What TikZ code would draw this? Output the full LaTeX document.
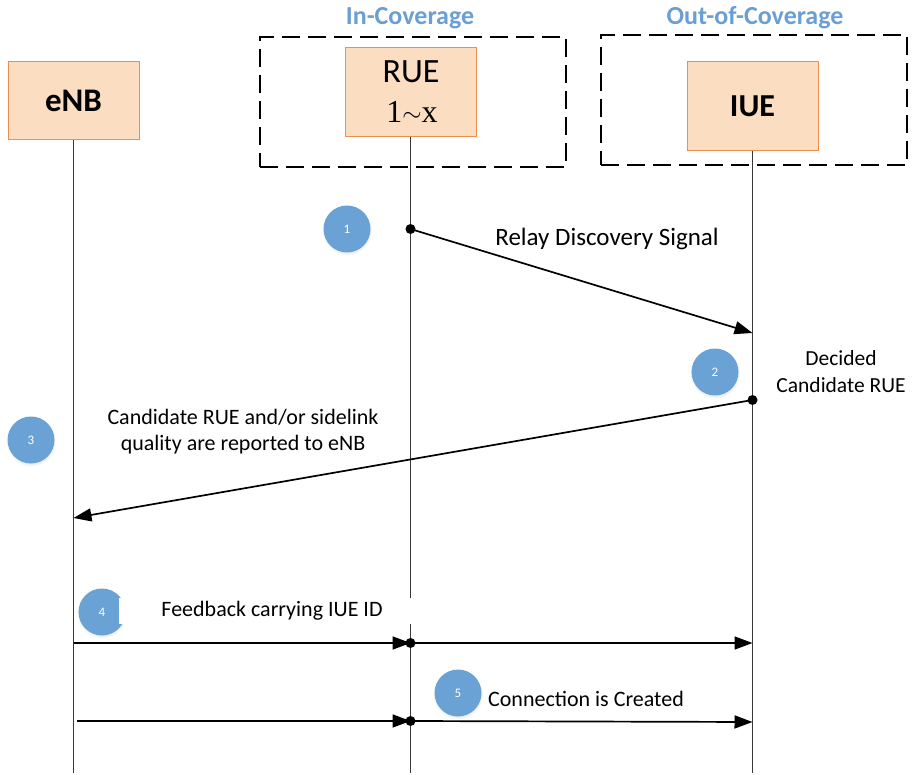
\documentclass[tikz,border=0pt]{standalone}
\usepackage{fontspec}
\setmainfont{Carlito}
\newfontfamily\serifdigits{Liberation Serif}
\usetikzlibrary{arrows.meta,shadows}

\definecolor{boxfill}{HTML}{FBDDC2}
\definecolor{boxline}{HTML}{EE8D4E}
\definecolor{stepblue}{HTML}{6BA2D5}
\definecolor{zoneblue}{HTML}{6A9FD5}
\definecolor{lifegray}{HTML}{383838}

\begin{document}
\begin{tikzpicture}[x=1pt,y=-1pt,
  actor/.style={draw=boxline, fill=boxfill, line width=1pt, inner sep=0pt,
                minimum width=131pt, align=center},
  zone/.style={draw=black, line width=2.7pt, dash pattern=on 18pt off 8pt,
               inner sep=0pt, minimum width=306pt, minimum height=130pt},
  zonelabel/.style={font=\fontsize{26}{30}\selectfont\bfseries, text=zoneblue,
                    anchor=base, inner sep=0pt},
  lifeline/.style={draw=lifegray, line width=1pt},
  msg/.style={draw=black, line width=1.7pt,
              -{Triangle[length=18pt,width=13pt]}},
  dot/.style={circle, fill=black, inner sep=0pt, minimum size=10pt},
  badge/.style={circle, fill=stepblue, inner sep=0pt, minimum size=47pt,
                text=white, font=\fontsize{13}{15}\selectfont,
                circular drop shadow={opacity=0.16, shadow xshift=0pt,
                  shadow yshift=-1.5pt, shadow scale=1.07}},
  msglabel/.style={font=\fontsize{22}{26}\selectfont, align=center},
  baselabel/.style={msglabel, anchor=base, inner sep=0pt}
]
\useasboundingbox (0,0) rectangle (915,775);

% coverage zones
\node[zone] (inzone)  at (413,102) {};
\node[zone] (outzone) at (754,100) {};
\node[zonelabel] (inlbl)  at (410,25) {In-Coverage};
\node[zonelabel] (outlbl) at (755,25) {Out-of-Coverage};

% participants
\node[actor, minimum height=78pt,
      font=\fontsize{33}{36}\selectfont\bfseries] (enb) at (73.5,101) {eNB};
\node[actor, minimum height=89pt] (rue) at (410.5,92.5) {};
\node[anchor=base, inner sep=0pt, font=\fontsize{34}{36}\selectfont]
  (ruename) at (411,83) {RUE};
\node[anchor=base, inner sep=0pt, font=\serifdigits\fontsize{32}{36}\selectfont]
  (ruerange) at (412,123) {1\raisebox{0.12ex}{$\sim$}x};
\node[actor, minimum height=89pt,
      font=\fontsize{32}{36}\selectfont\bfseries] (iue) at (752.5,106.5) {IUE};

% lifeline ends
\coordinate (enbend) at (73.5,773);
\coordinate (rueend) at (410.5,773);
\coordinate (iueend) at (752.5,773);

\draw[lifeline] (enb.south) -- (enbend);
\draw[lifeline] (rue.south) -- (rueend);
\draw[lifeline] (iue.south) -- (iueend);

% message anchor points on the lifelines
\coordinate (rueA) at (410.5,229);
\coordinate (iueA) at (752.5,333);
\coordinate (iueB) at (752.5,400);
\coordinate (enbB) at (73.5,518);
\coordinate (enbC) at (73.5,643);
\coordinate (rueC) at (410.5,643);
\coordinate (iueC) at (752.5,643);
\coordinate (enbD) at (77,721);
\coordinate (rueD) at (410.5,721);
\coordinate (iueD) at (752.5,722);

% step 1: relay discovery
\node[badge] (s1) at (347,229) {1};
\draw[msg] (rueA) -- (iueA);
\node[dot] (d1) at (rueA) {};
\node[baselabel, font=\fontsize{25}{30}\selectfont] (l1) at (607,246) {Relay Discovery Signal};

% step 2: candidate decision
\node[badge] (s2) at (715,372) {2};
\node[msglabel, font=\fontsize{21.5}{27}\selectfont] (l2) at (841,372) {Decided\\Candidate RUE};
\draw[msg] (iueB) -- (enbB);
\node[dot] (d2) at (iueB) {};

% step 3: report to eNB
\node[badge] (s3) at (31,440) {3};
\node[msglabel] (l3) at (243,432) {Candidate RUE and/or sidelink\\quality are reported to eNB};

% step 4: feedback
\node[badge] (s4) at (102,612) {4};
\node[msglabel, fill=white, minimum width=306pt, minimum height=26pt,
      inner sep=0pt] (l4) at (272,611) {Feedback carrying IUE ID};
\draw[msg] (enbC) -- (rueC);
\draw[msg] (rueC) -- (iueC);
\node[dot] (d4) at (rueC) {};

% step 5: connection
\node[badge] (s5) at (458,693) {5};
\node[baselabel] (l5) at (586,706) {Connection is Created};
\draw[msg] (enbD) -- (rueD);
\draw[msg] (rueD) -- (iueD);
\node[dot] (d5) at (rueD) {};

\end{tikzpicture}
\end{document}
